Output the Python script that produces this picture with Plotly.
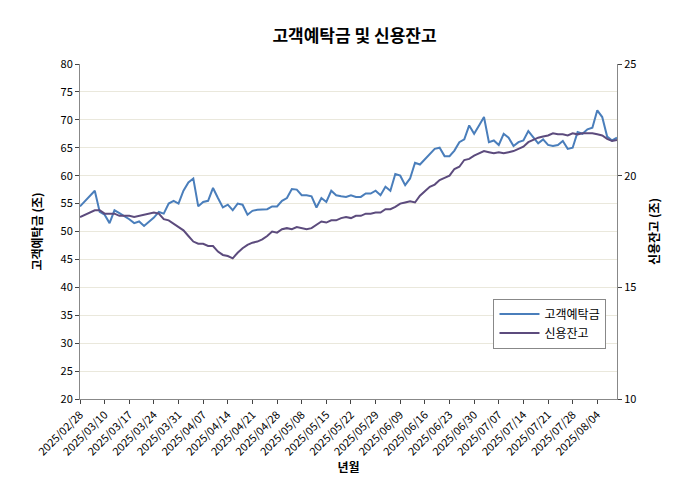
import pandas as pd
import plotly.graph_objects as go

# ── Data ───────────────────────────────────────────────
holidays = ["2025-03-03", "2025-05-01", "2025-05-05", "2025-05-06", "2025-06-03", "2025-06-06"]
dates = [d.strftime("%Y/%m/%d") for d in pd.bdate_range("2025-02-28", "2025-08-08")
         if d.strftime("%Y-%m-%d") not in holidays]

deposits = [54.5, 55.5, 56.5, 57.3, 53.5, 53.0, 51.5, 53.8, 53.3, 52.8,
            52.2, 51.5, 51.8, 51.0, 51.8, 52.5, 53.5, 53.2, 55.0, 55.5,
            55.0, 57.3, 58.8, 59.5, 54.5, 55.3, 55.5, 57.8, 56.0, 54.3,
            54.8, 53.8, 55.0, 54.8, 53.0, 53.7, 53.9, 53.9, 54.0, 54.5,
            54.5, 55.5, 56.0, 57.6, 57.5, 56.5, 56.5, 56.3, 54.3, 56.0,
            55.3, 57.3, 56.5, 56.3, 56.2, 56.5, 56.2, 56.2, 56.8, 56.8,
            57.3, 56.5, 58.0, 57.3, 60.3, 60.0, 58.3, 59.5, 62.3, 62.0,
            63.0, 63.8, 64.8, 65.0, 63.5, 63.5, 64.5, 66.0, 66.5, 69.0,
            67.5, 69.0, 70.5, 66.0, 66.3, 65.5, 67.5, 66.8, 65.3, 66.0,
            66.3, 68.0, 67.0, 65.8, 66.5, 65.5, 65.3, 65.5, 66.2, 64.8,
            65.0, 67.8, 67.5, 68.3, 68.6, 71.7, 70.5, 67.0, 66.3, 66.8]

credit = [18.15, 18.25, 18.35, 18.45, 18.45, 18.3, 18.3, 18.3, 18.2, 18.2,
          18.2, 18.15, 18.2, 18.25, 18.3, 18.35, 18.3, 18.05, 18.0, 17.85,
          17.7, 17.55, 17.3, 17.05, 16.95, 16.95, 16.85, 16.85, 16.6, 16.45,
          16.4, 16.3, 16.55, 16.75, 16.9, 17.0, 17.05, 17.15, 17.3, 17.5,
          17.45, 17.6, 17.65, 17.6, 17.7, 17.65, 17.6, 17.65, 17.8, 17.95,
          17.9, 18.0, 18.0, 18.1, 18.15, 18.1, 18.2, 18.2, 18.3, 18.3,
          18.35, 18.35, 18.5, 18.5, 18.6, 18.75, 18.8, 18.85, 18.8, 19.1,
          19.3, 19.5, 19.6, 19.8, 19.9, 20.0, 20.3, 20.4, 20.7, 20.75,
          20.9, 21.0, 21.1, 21.05, 21.0, 21.05, 21.0, 21.05, 21.1, 21.2,
          21.3, 21.5, 21.6, 21.7, 21.75, 21.8, 21.9, 21.85, 21.85, 21.8,
          21.9, 21.85, 21.9, 21.9, 21.9, 21.85, 21.8, 21.65, 21.55, 21.6]

font = "Noto Sans CJK KR"

fig = go.Figure()
fig.add_trace(go.Scatter(x=dates, y=deposits, name="고객예탁금", mode="lines",
                         line=dict(color="#4A7EBB", width=2)))
fig.add_trace(go.Scatter(x=dates, y=credit, name="신용잔고", mode="lines", yaxis="y2",
                         line=dict(color="#5C4B7D", width=2)))

fig.update_layout(
    width=693, height=502,
    title=dict(text="<b>고객예탁금 및 신용잔고</b>", x=0.5, y=0.955, font=dict(size=17, color="black")),
    font=dict(family=font, size=11, color="black"),
    plot_bgcolor="white", paper_bgcolor="white",
    margin=dict(l=72, r=84, t=56, b=111),
    showlegend=True,
    legend=dict(x=0.77, y=0.30, xanchor="left", yanchor="top", bordercolor="#888888",
                borderwidth=1, font=dict(size=12), tracegroupgap=12, itemwidth=40),
    xaxis=dict(type="category", tickvals=dates[::5], tickangle=-45, ticks="outside",
               ticklen=4, linecolor="#888888", showgrid=False,
               title=dict(text="<b>년월</b>", standoff=2, font=dict(size=12))),
    yaxis=dict(range=[20, 80], dtick=5, gridcolor="#EAE8DC", linecolor="#888888",
               ticks="outside", ticklen=4, zeroline=False,
               title=dict(text="<b>고객예탁금 (조)</b>", font=dict(size=12))),
    yaxis2=dict(range=[10, 25], dtick=5, overlaying="y", side="right", showgrid=False,
                linecolor="#888888", ticks="outside", ticklen=4, zeroline=False,
                title=dict(text="<b>신용잔고 (조)</b>", font=dict(size=12))),
)

fig.write_html("out.html")
